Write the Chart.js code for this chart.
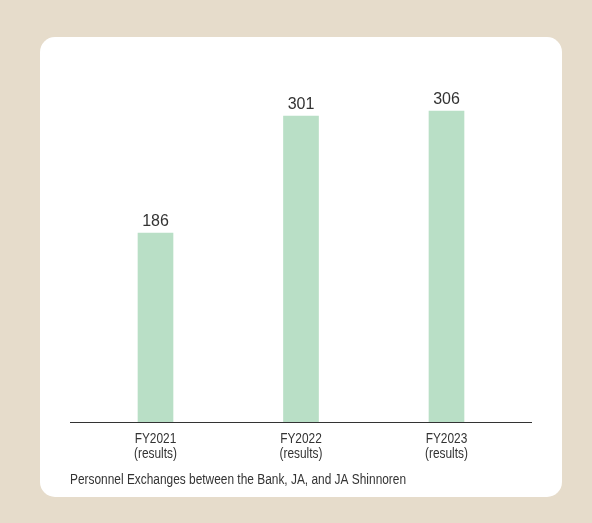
<!DOCTYPE html>
<html>
<head>
<meta charset="utf-8">
<script src="https://cdn.jsdelivr.net/npm/chart.js@4/dist/chart.umd.min.js"></script>
<style>
  html, body { margin: 0; padding: 0; }
  body { width: 592px; height: 523px; background: #e6dccb; position: relative; overflow: hidden; }
  #card { position: absolute; left: 40px; top: 37px; width: 522px; height: 460px; background: #fff; border-radius: 15px; }
</style>
</head>
<body>
<div id="card"><canvas id="barchart"></canvas></div>
<script>
const years = ['FY2021', 'FY2022', 'FY2023'];
const notes = ['(results)', '(results)', '(results)'];
const exchanges = [186, 301, 306];
const caption = 'Personnel Exchanges between the Bank, JA, and JA Shinnoren';

// condensed look: regular sans squeezed horizontally
const SQUEEZE = 0.85;

function narrowText(c, text, x, y) {
    c.save();
    c.translate(x, y);
    c.scale(SQUEEZE, 1);
    c.fillText(text, 0, 0);
    c.restore();
}

// values over bars, category labels, baseline and caption
const extras = {
    id: 'extras',
    afterDatasetsDraw(chart) {
        const c = chart.ctx;
        const area = chart.chartArea;
        const xs = chart.scales.x;
        c.save();
        c.fillStyle = '#333';
        c.font = '16px "Liberation Sans", Arial, sans-serif';
        c.textAlign = 'center';
        c.textBaseline = 'alphabetic';
        chart.getDatasetMeta(0).data.forEach((bar, i) => {
            c.fillText(String(exchanges[i]), bar.x, bar.y - 7);
        });

        c.font = '14px "Liberation Sans", Arial, sans-serif';
        years.forEach((y, i) => {
            const x = xs.getPixelForTick(i);
            narrowText(c, y, x, area.bottom + 21);
            narrowText(c, notes[i], x, area.bottom + 36);
        });

        c.strokeStyle = '#333';
        c.lineWidth = 1;
        c.beginPath();
        c.moveTo(30, area.bottom + 0.5);
        c.lineTo(492, area.bottom + 0.5);
        c.stroke();

        c.textAlign = 'left';
        narrowText(c, caption, 30, 447);
        c.restore();
    }
};

const ctx = document.getElementById('barchart').getContext('2d');
const myChart = new Chart(ctx, {
    type: 'bar',
    data: {
        labels: years,
        datasets: [{
            data: exchanges,
            backgroundColor: '#b9dfc6',
            barThickness: 35
        }]
    },
    options: {
        responsive: true,
        maintainAspectRatio: false,
        animation: false,
        layout: { padding: { left: 42.75, right: 42.75, top: 39.5, bottom: 0 } },
        plugins: { legend: { display: false }, tooltip: { enabled: false } },
        scales: {
            x: {
                grid: { display: false },
                border: { display: false },
                ticks: { display: false },
                afterFit(scale) { scale.height = 75; }
            },
            y: {
                display: false,
                min: 0,
                max: 340
            }
        }
    },
    plugins: [extras]
});
</script>
</body>
</html>
